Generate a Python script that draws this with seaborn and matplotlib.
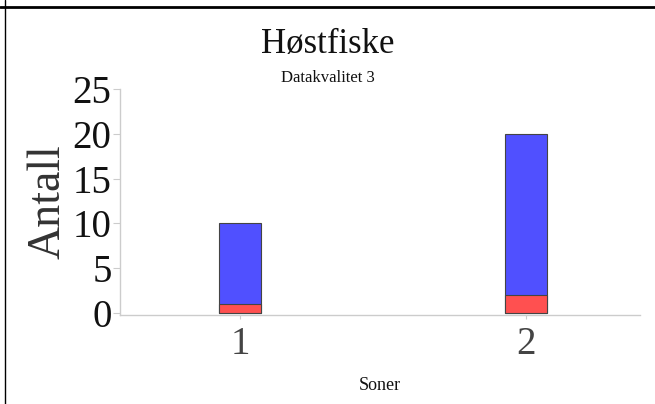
import pandas as pd
import matplotlib
matplotlib.use("Agg")
import matplotlib.pyplot as plt
from matplotlib.lines import Line2D
import seaborn as sns

# data
soner = ["1", "2"]
antall_total = [10, 20]
antall_rod = [1, 2]

df = pd.DataFrame({"Soner": soner, "total": antall_total, "rod": antall_rod})

sns.set_theme(style="white")
plt.rcParams["font.family"] = ["Liberation Serif", "DejaVu Serif"]

fig = plt.figure(figsize=(6.55, 4.04), dpi=100)
ax = fig.add_axes([0.183, 0.2203, 0.794, 0.5594])

sns.barplot(data=df, x="Soner", y="total", order=soner, color="#5050ff",
            saturation=1, width=0.147, edgecolor="#444444", linewidth=0.8, ax=ax)
sns.barplot(data=df, x="Soner", y="rod", order=soner, color="#ff5050",
            saturation=1, width=0.147, edgecolor="#444444", linewidth=0.8, ax=ax)

ax.set_xlim(-0.42, 1.40)
ax.set_ylim(-0.22, 25)
ax.set_yticks([0, 5, 10, 15, 20, 25])
ax.tick_params(axis="y", labelsize=28, colors="#cccccc", labelcolor="#111111",
               length=5, width=0.8, left=True, pad=1)
ax.tick_params(axis="x", labelsize=28, colors="#cccccc", labelcolor="#444444",
               length=3, width=0.8, bottom=True, pad=5)
for s in ["top", "right"]:
    ax.spines[s].set_visible(False)
for s in ["left", "bottom"]:
    ax.spines[s].set_color("#cccccc")
    ax.spines[s].set_linewidth(1.0)

ax.set_ylabel("Antall", fontsize=33, color="#333333", labelpad=2)
ax.set_xlabel("Soner", fontsize=13, color="#111111", labelpad=10)

fig.text(0.5, 0.89, "Høstfiske", ha="center", va="center", fontsize=25, color="#111111")
fig.text(0.5, 0.807, "Datakvalitet 3", ha="center", va="center", fontsize=12, color="#111111")

# frame lines at the top and left edge
fig.add_artist(Line2D([0, 1], [1 - 7 / 404, 1 - 7 / 404], color="black", linewidth=2,
                      transform=fig.transFigure))
fig.add_artist(Line2D([5 / 655, 5 / 655], [0, 1], color="black", linewidth=1,
                      transform=fig.transFigure))

fig.savefig("out.png", dpi=100)
